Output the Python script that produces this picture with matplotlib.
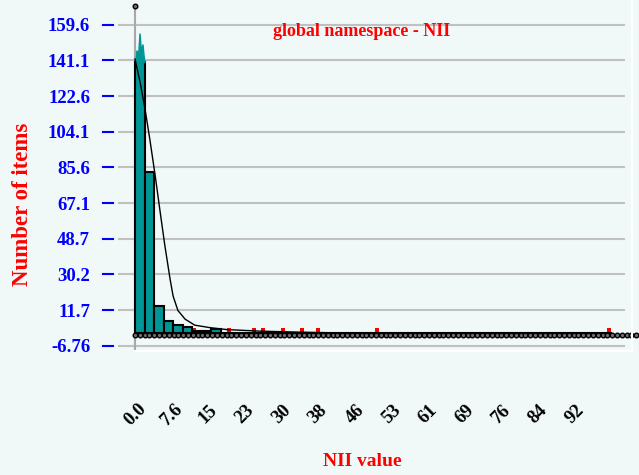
import matplotlib
matplotlib.use("Agg")
import matplotlib.pyplot as plt
from matplotlib.lines import Line2D
import numpy as np

# данные гистограммы (50 интервалов по 1.98)
bin_width = 1.98
bin_counts = [140, 83, 14, 6, 4, 3, 1, 1, 2] + [0] * 41

# отдельные красные метки у базовой линии
red_x = [10.9, 12.3, 19.5, 24.7, 26.6, 30.7, 34.6, 37.9, 50.2, 98.3]
red_h = 2.6

# сглаженная кривая
curve_x = [0, 1.04, 2.07, 3.11, 4.15, 5.19, 6.2, 7.26, 7.9, 8.9, 10.4, 12.4,
           15.6, 19.1, 26, 34, 40, 98]
curve_y = [141.8, 130, 116, 99.6, 82, 63, 45, 28, 19, 11.5, 7.0, 3.9,
           2.6, 1.6, 0.8, 0.3, 0, 0]

# "корона" над первым столбцом (смещения от верха столбца)
crown_dx = [0.2, 0.4, 0.73, 1.04, 1.35, 1.66, 1.87, 2.07]
crown_dy = [0, 6.2, 3.1, 15, 5.2, 9.3, 3.6, 0]

# точки вдоль оси X и верхняя точка
rug_x = list(range(0, 106))
rug_y = -1.24
top_point = (0, 169.4)

yticks = [-6.76, 11.7, 30.2, 48.7, 67.1, 85.6, 104.1, 122.6, 141.1, 159.6]
ytick_labels = ["-6.76", "11.7", "30.2", "48.7", "67.1", "85.6", "104.1",
                "122.6", "141.1", "159.6"]
xticks = [0, 7.6, 15.2, 22.8, 30.4, 38, 45.6, 53.2, 60.8, 68.4, 76, 83.6, 91.2]
xtick_labels = ["0.0", "7.6", "15", "23", "30", "38", "46", "53", "61", "69",
                "76", "84", "92"]

bg = "#F0F8F8"
font = "Liberation Serif"

fig = plt.figure(figsize=(6.39, 4.75), dpi=100, facecolor=bg)
ax = fig.add_axes([118 / 639, 1 - 352 / 475, 507 / 639, 328.7 / 475])
ax.set_facecolor(bg)
ax.set_xlim(-3.53, 101.66)
ax.set_ylim(-10.0, 160.3)

for s in ax.spines.values():
    s.set_visible(False)

# сетка
ax.set_yticks(yticks, ytick_labels)
ax.grid(axis="y", color="#C0C0C0", linewidth=1.5, zorder=0)
ax.set_axisbelow(True)
ax.tick_params(axis="y", length=0, pad=20, labelsize=13.5, labelcolor="#0000FF")
for lab in ax.get_yticklabels():
    lab.set_fontfamily(font)
    lab.set_fontweight("bold")

# синие штрихи слева от сетки
for yt in yticks:
    ax.plot([-0.0296, -0.0099], [yt, yt], color="#0000FF", linewidth=1.5,
            transform=ax.get_yaxis_transform(), clip_on=False)

ax.set_xticks(xticks, xtick_labels)
ax.tick_params(axis="x", length=0, pad=45, labelsize=13.5)
for lab in ax.get_xticklabels():
    lab.set_fontfamily(font)
    lab.set_fontweight("bold")
    lab.set_rotation(45)
    lab.set_ha("center")
    lab.set_va("center")

# вертикальная линия оси
ax.plot([0, 0], [-9.0, top_point[1]], color="#A8A8A8", linewidth=1.5,
        clip_on=False, zorder=1)

# красные метки
ax.bar(red_x, [red_h] * len(red_x), width=0.9, color="#FF0000", zorder=2)

# столбцы
edges = np.arange(len(bin_counts)) * bin_width
ax.bar(edges, bin_counts, width=bin_width, align="edge", color="#009696",
       edgecolor="black", linewidth=1.5, zorder=3)

# корона
ax.fill([edges[0] + d for d in crown_dx],
        [bin_counts[0] + d for d in crown_dy], color="#009696", zorder=3)

# кривая
ax.plot(curve_x, curve_y, color="black", linewidth=1.0, zorder=4)

# точки
ax.plot(rug_x, [rug_y] * len(rug_x), linestyle="none", marker="o",
        markersize=3.3, markerfacecolor="#707070", markeredgecolor="black",
        markeredgewidth=1.0, clip_on=False, zorder=5)
ax.plot([top_point[0]], [top_point[1]], marker="o", markersize=3.3,
        markerfacecolor="#707070", markeredgecolor="black",
        markeredgewidth=1.0, clip_on=False, zorder=5)

# белая рамка
fig.add_artist(Line2D([135 / 639, 632 / 639], [1 - 351 / 475] * 2,
                      transform=fig.transFigure, color="white", linewidth=1.5))
fig.add_artist(Line2D([632 / 639] * 2, [1 - 351 / 475, 1.0],
                      transform=fig.transFigure, color="white", linewidth=1.5))

# подписи
fig.text(362 / 639, 1 - 32 / 475, "global namespace - NII", color="#FF0000",
         fontsize=13, fontweight="bold", family=font, ha="center", va="center")
fig.text(362 / 639, 1 - 462 / 475, "NII value", color="#FF0000",
         fontsize=14, fontweight="bold", family=font, ha="center", va="center")
fig.text(23 / 639, 1 - 204 / 475, "Number of items", color="#FF0000",
         fontsize=16.5, fontweight="bold", family=font, ha="center",
         va="center", rotation=90)

fig.savefig("out.png", dpi=100, facecolor=bg)
